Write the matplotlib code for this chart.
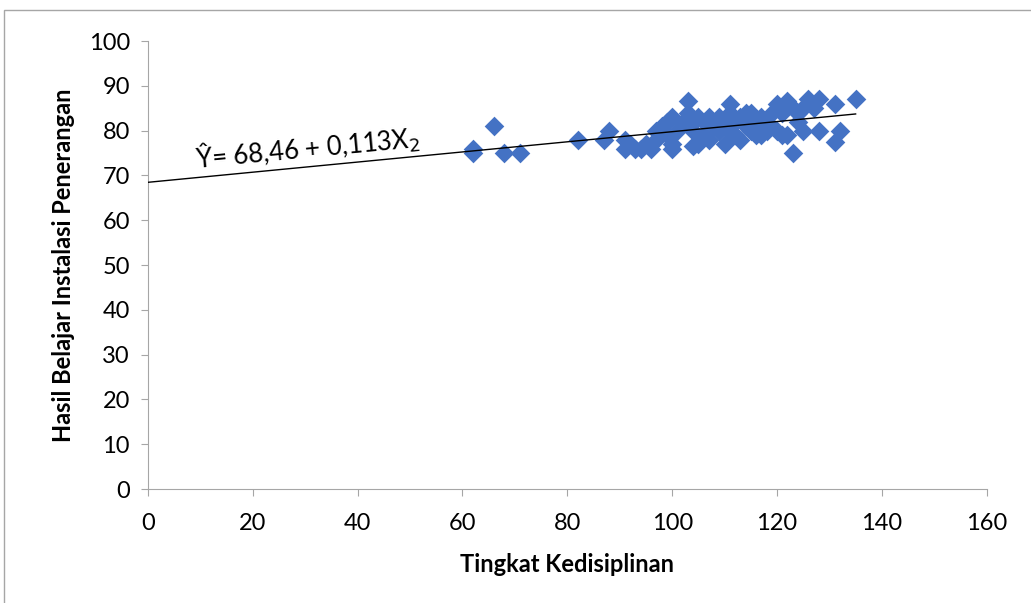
# scatter Tingkat Kedisiplinan vs Hasil Belajar with linear trend line

import matplotlib.pyplot as plt
from matplotlib.patches import Rectangle

plt.rcParams['font.family'] = ['Lato', 'DejaVu Sans']

kedisiplinan = [62, 62, 66, 68, 71, 82, 87, 88,
                91, 91, 92, 93, 94, 95, 96, 97, 97, 98, 99, 99, 100, 100, 100,
                101, 102, 103, 103, 104, 104, 104, 105, 105, 106, 106, 107, 107,
                108, 109, 109, 110, 110, 111, 111, 111,
                112, 112, 113, 113, 114, 114, 115, 115, 116, 116, 117, 117,
                118, 118, 119, 120, 120, 121, 121,
                122, 122, 123, 123, 124, 124, 125, 125, 126, 127, 128, 128,
                131, 131, 132, 135]
hasil = [75, 76, 81, 75, 75, 78, 78, 80,
         78, 76, 77, 76, 76, 77, 76, 80, 78, 81, 79, 82, 83, 77, 76,
         80, 82, 86.5, 84, 80, 82, 76.5, 83, 77, 79, 82, 78, 83,
         81, 80, 83, 77, 82, 86, 84, 80,
         82, 79, 78, 83, 81, 84, 84, 80, 79, 82, 83, 79,
         80, 82, 84, 86, 80, 84, 79,
         86.5, 79, 75, 85, 82, 84, 80, 85, 87, 85, 87, 80,
         86, 77.5, 80, 87]

# regression coefficients shown on the chart
a = 68.46
b = 0.113

fig = plt.figure(figsize=(10.31, 6.03), dpi=100)
ax = fig.add_axes([0.1435, 0.189, 0.8135, 0.743])

ax.scatter(kedisiplinan, hasil, marker='D', s=100, color='#4472C4',
           linewidths=0, zorder=2)

x_line = [0, max(kedisiplinan)]
y_line = [a + b * v for v in x_line]
ax.plot(x_line, y_line, color='black', lw=1, zorder=3)

ax.text(30.5, 76.2, 'Ŷ= 68,46 + 0,113X$_2$', fontsize=18.5, rotation=5.4,
        ha='center', va='center', rotation_mode='anchor')

ax.set_xlim(0, 160)
ax.set_ylim(0, 100)
ax.set_xticks(range(0, 161, 20))
ax.set_yticks(range(0, 101, 10))
ax.tick_params(axis='both', colors='#A6A6A6', labelcolor='black',
               labelsize=17, length=5, direction='out')
ax.tick_params(axis='x', pad=12)
ax.tick_params(axis='y', pad=8)
for side in ['top', 'right']:
    ax.spines[side].set_visible(False)
for side in ['left', 'bottom']:
    ax.spines[side].set_color('#A6A6A6')

ax.set_xlabel('Tingkat Kedisiplinan', fontsize=17, fontweight='bold', labelpad=14)
ax.set_ylabel('Hasil Belajar Instalasi Penerangan', fontsize=17,
              fontweight='bold', labelpad=10)

# chart border
fig.patches.append(Rectangle((4 / 1031, -0.1), 1.1, 1.1 - 10 / 603,
                             transform=fig.transFigure, fill=False,
                             edgecolor='#A6A6A6', lw=1))

fig.savefig('out.png', dpi=100)
